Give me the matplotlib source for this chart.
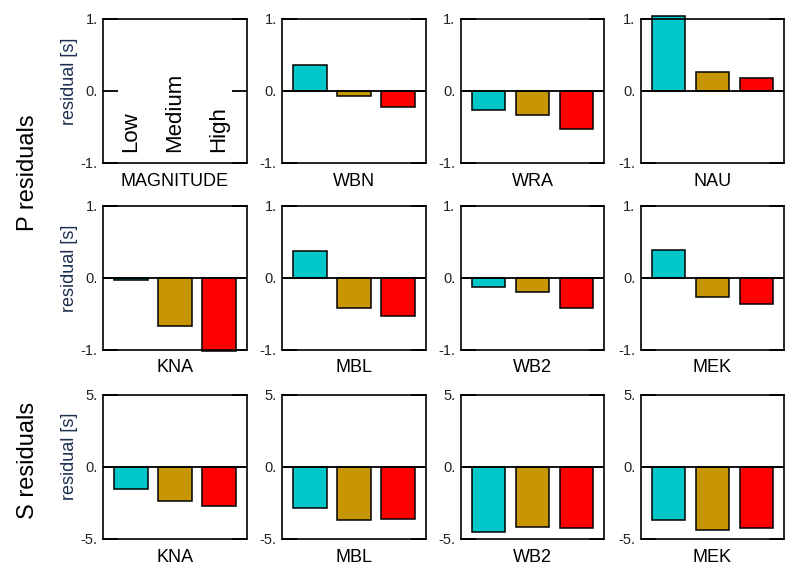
import numpy as np
import matplotlib
matplotlib.use('Agg')
import matplotlib.pyplot as plt

plt.rcParams['font.family'] = ['Liberation Sans', 'DejaVu Sans']

# data: residuals for Low / Medium / High magnitude
p_row1_names = ['WBN', 'WRA', 'NAU']
p_row1_vals = [[0.365, -0.075, -0.22],
               [-0.26, -0.33, -0.53],
               [1.04, 0.27, 0.185]]
p_row2_names = ['KNA', 'MBL', 'WB2', 'MEK']
p_row2_vals = [[-0.035, -0.67, -1.02],
               [0.37, -0.42, -0.525],
               [-0.13, -0.2, -0.415],
               [0.38, -0.27, -0.37]]
s_names = ['KNA', 'MBL', 'WB2', 'MEK']
s_vals = [[-1.53, -2.34, -2.73],
          [-2.85, -3.66, -3.64],
          [-4.49, -4.15, -4.26],
          [-3.66, -4.35, -4.26]]
mag_labels = ['Low', 'Medium', 'High']
colors = ['#00c8c8', '#c89600', '#ff0000']

W, H = 788, 569
fig = plt.figure(figsize=(W / 100, H / 100), dpi=100)

lefts = [103.3, 282.3, 461.0, 640.7]
tops = [19.0, 205.7, 395.0]
pw, ph = 143.4, 144.0
xpos = np.array([1, 2, 3])


def make_ax(row, col, lim, ticklabels):
    ax = fig.add_axes([lefts[col] / W, 1 - (tops[row] + ph) / H, pw / W, ph / H])
    ax.set_xlim(0.37, 3.63)
    ax.set_ylim(-lim, lim)
    ax.set_xticks([])
    ax.set_yticks([-lim, 0, lim])
    ax.set_yticklabels(ticklabels, fontsize=10.5, color='#222222')
    ax.tick_params(axis='y', direction='in', length=10.8, width=1.3,
                   left=True, right=True, pad=4)
    for s in ax.spines.values():
        s.set_linewidth(1.2)
    return ax


def draw_bars(ax, vals, name):
    ax.bar(xpos, vals, width=0.757, color=colors, edgecolor='black',
           linewidth=1.1, clip_on=False, zorder=2)
    ax.axhline(0, color='black', lw=1.3, zorder=3)
    ax.text(0.5, -0.125, name, transform=ax.transAxes, ha='center',
            va='center', fontsize=13)


p_ticks = ['-1.', '0.', '1.']
s_ticks = ['-5.', '0.', '5.']

# magnitude legend panel
ax = make_ax(0, 0, 1, p_ticks)
for x, lab in zip(xpos, mag_labels):
    ax.text(x, -0.85, lab, rotation=90, ha='center', va='bottom', fontsize=16)
ax.text(0.5, -0.125, 'MAGNITUDE', transform=ax.transAxes, ha='center',
        va='center', fontsize=13)

for i in range(3):
    ax = make_ax(0, i + 1, 1, p_ticks)
    draw_bars(ax, p_row1_vals[i], p_row1_names[i])

for i in range(4):
    ax = make_ax(1, i, 1, p_ticks)
    draw_bars(ax, p_row2_vals[i], p_row2_names[i])

for i in range(4):
    ax = make_ax(2, i, 5, s_ticks)
    draw_bars(ax, s_vals[i], s_names[i])

# y labels
for yc in [81, 268.5, 456.7]:
    fig.text(69 / W, 1 - yc / H, 'residual [s]', rotation=90, ha='center',
             va='center', fontsize=13, color='#1c2f4f')

fig.text(28 / W, 1 - 173 / H, 'P residuals', rotation=90, ha='center',
         va='center', fontsize=17)
fig.text(28 / W, 1 - 460 / H, 'S residuals', rotation=90, ha='center',
         va='center', fontsize=17)

fig.savefig('out.png', dpi=100)
